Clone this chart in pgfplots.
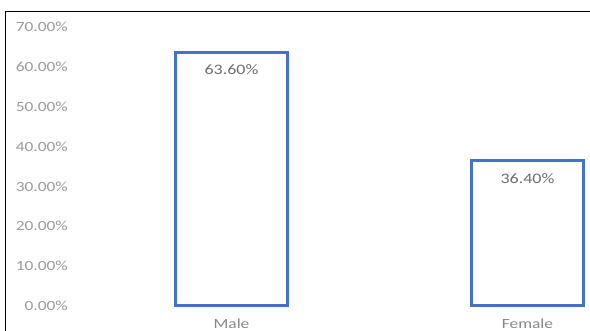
\documentclass[border=0pt]{standalone}
\usepackage{pgfplots}
\pgfplotsset{compat=1.18}
\usepackage{fontspec}
\setmainfont{Carlito}[FakeStretch=1.24]
\definecolor{barblue}{HTML}{4472C4}
\definecolor{ticktext}{HTML}{9A9A9A}
\definecolor{valtext}{HTML}{6E6E6E}
\definecolor{cattext}{HTML}{8A8A8A}
\begin{document}
\begin{tikzpicture}
\begin{axis}[
  name=ax,
  scale only axis,
  width=510pt, height=279pt,
  xmin=-0.5118, xmax=1.2112,
  ymin=0, ymax=70,
  ytick={0,10,...,70},
  xtick={0,1},
  xticklabels={Male,Female},
  axis line style={draw=none},
  tick style={draw=none},
  major tick length=0pt,
  /pgf/number format/assume math mode=true,
  yticklabel={\pgfmathprintnumber[fixed,fixed zerofill,precision=2]{\tick}\%},
  yticklabel style={font=\fontsize{14}{16}\selectfont, color=ticktext, anchor=east, inner sep=0pt, xshift=-12pt},
  xticklabel style={font=\fontsize{14}{16}\selectfont, color=cattext, anchor=north, inner sep=0pt, yshift=-13pt},
  ybar,
  bar width=112pt,
  nodes near coords={\pgfmathprintnumber[fixed,fixed zerofill,precision=2]{\pgfplotspointmeta}\%},
  nodes near coords style={font=\fontsize{14.5}{16}\selectfont, color=valtext, anchor=north, inner sep=0pt, yshift=-11pt},
  clip=false,
]
\addplot[draw=barblue, fill=white, line width=3pt] coordinates {(0,63.6) (1,36.4)};
\end{axis}
\pgfresetboundingbox
\useasboundingbox ([xshift=-80pt,yshift=-25pt]ax.south west) rectangle ++(590pt,331pt);
\draw[line width=1pt, black] ([xshift=-74pt,yshift=-40pt]ax.south west) -- ([xshift=-74pt,yshift=16pt]ax.north west) -- ([xshift=20pt,yshift=16pt]ax.north east);
\end{tikzpicture}
\end{document}
